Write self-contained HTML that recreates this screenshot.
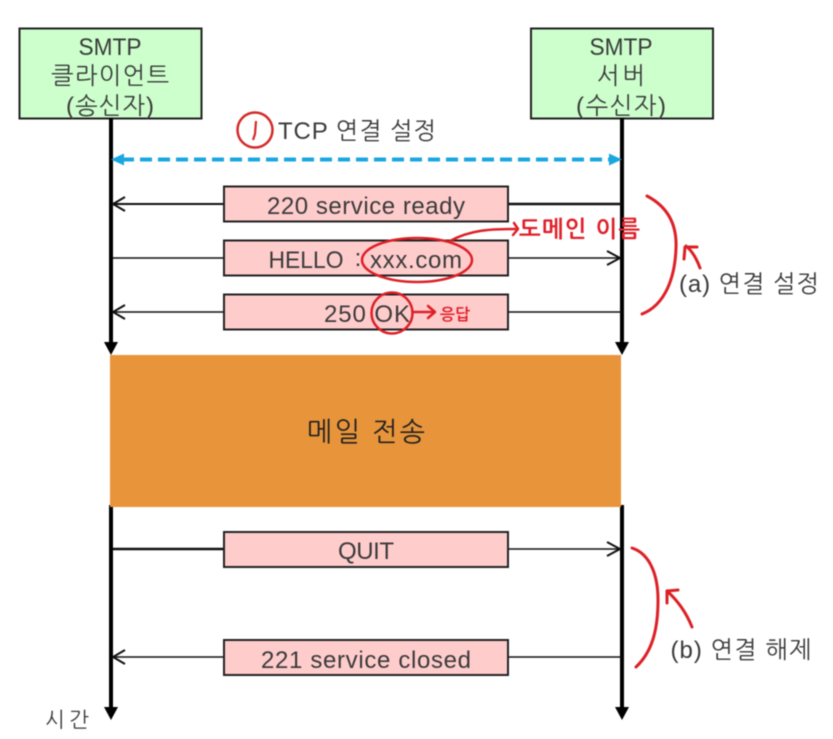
<!DOCTYPE html>
<html>
<head>
<meta charset="utf-8">
<style>
html,body{margin:0;padding:0;background:#fff;width:833px;height:739px;overflow:hidden}
svg{display:block;filter:blur(.5px)}
text{font-family:"Liberation Sans","NanumGothic","Noto Sans CJK KR",sans-serif;fill:#3a3a3a;font-size:24px;text-anchor:middle}
.r{font-family:"NanumGothic","Noto Sans CJK KR",sans-serif;fill:#e0202a;font-weight:bold;text-anchor:start}
</style>
</head>
<body>
<svg width="833" height="739" viewBox="0 0 833 739" xmlns="http://www.w3.org/2000/svg">
<rect width="833" height="739" fill="#fff"/>

<!-- actor boxes -->
<rect x="19.500" y="28.500" width="182" height="90" fill="#ccffcc" stroke="#222" stroke-width="2"/>
<rect x="531" y="28.500" width="182" height="90" fill="#ccffcc" stroke="#222" stroke-width="2"/>
<text x="110" y="55" textLength="63" lengthAdjust="spacingAndGlyphs">SMTP</text>
<text x="110" y="84" textLength="118" lengthAdjust="spacing">클라이언트</text>
<text x="110" y="114" textLength="88" lengthAdjust="spacing">(송신자)</text>
<text x="621" y="55" textLength="63" lengthAdjust="spacingAndGlyphs">SMTP</text>
<text x="621" y="84" textLength="48" lengthAdjust="spacing">서버</text>
<text x="621" y="114" textLength="90" lengthAdjust="spacing">(수신자)</text>

<!-- lifelines -->
<line x1="111" y1="118" x2="111" y2="344" stroke="#000" stroke-width="4"/>
<polygon points="104,342 118,342 111,355" fill="#000"/>
<line x1="622" y1="118" x2="622" y2="344" stroke="#000" stroke-width="4"/>
<polygon points="615,342 629,342 622,355" fill="#000"/>
<line x1="111" y1="505" x2="111" y2="710" stroke="#000" stroke-width="4"/>
<polygon points="104,707 118,707 111,720" fill="#000"/>
<line x1="622" y1="505" x2="622" y2="710" stroke="#000" stroke-width="4"/>
<polygon points="615,707 629,707 622,720" fill="#000"/>

<!-- TCP dashed -->
<line x1="122" y1="159.500" x2="612" y2="159.500" stroke="#1aa7e0" stroke-width="4" stroke-dasharray="12 6"/>
<polygon points="111,159.500 124,153.500 124,165.500" fill="#1aa7e0"/>
<polygon points="622,159.500 609,153.500 609,165.500" fill="#1aa7e0"/>
<text x="357" y="139" textLength="158" lengthAdjust="spacing">TCP 연결 설정</text>
<circle cx="255" cy="130" r="17.500" fill="none" stroke="#d42a2a" stroke-width="2.500"/>
<path d="M256 121 L255 134 L253 140" fill="none" stroke="#d42a2a" stroke-width="2.200"/>

<!-- connectors -->
<g stroke="#111" fill="none">
<line x1="113" y1="204" x2="224" y2="204" stroke-width="2"/>
<polyline points="125,197 113,204 125,211" stroke-width="2"/>
<line x1="508" y1="204" x2="622" y2="204" stroke-width="2.500"/>
<line x1="113" y1="258" x2="224" y2="258" stroke-width="1.500"/>
<line x1="508" y1="258" x2="620" y2="258" stroke-width="1.500"/>
<polyline points="607,251 620,258 607,265" stroke-width="2"/>
<line x1="113" y1="312" x2="224" y2="312" stroke-width="1.500"/>
<polyline points="125,305 113,312 125,319" stroke-width="2"/>
<line x1="508" y1="312" x2="622" y2="312" stroke-width="1.500"/>
<line x1="113" y1="549" x2="224" y2="549" stroke-width="2.500"/>
<line x1="508" y1="549" x2="620" y2="549" stroke-width="1.500"/>
<polyline points="607,542 620,549 607,556" stroke-width="2"/>
<line x1="113" y1="657" x2="224" y2="657" stroke-width="1.500"/>
<polyline points="125,650 113,657 125,664" stroke-width="2"/>
<line x1="508" y1="657" x2="622" y2="657" stroke-width="1.500"/>
</g>

<!-- message boxes -->
<g fill="#ffcccc" stroke="#222" stroke-width="2">
<rect x="224" y="186.500" width="284" height="35"/>
<rect x="224" y="240.500" width="284" height="35"/>
<rect x="224" y="294.500" width="284" height="35"/>
<rect x="224" y="532" width="284" height="35"/>
<rect x="224" y="640" width="284" height="35"/>
</g>
<text x="366" y="214" textLength="198" lengthAdjust="spacing">220 service ready</text>
<text x="306" y="268" textLength="75" lengthAdjust="spacingAndGlyphs">HELLO</text>
<text x="358" y="266">:</text>
<text x="416" y="268" textLength="92" lengthAdjust="spacing">xxx.com</text>
<text x="367" y="322" textLength="86" lengthAdjust="spacing">250 OK</text>
<text x="366" y="559" textLength="56" lengthAdjust="spacing">QUIT</text>
<text x="366" y="668" textLength="210" lengthAdjust="spacing">221 service closed</text>

<!-- orange block -->
<rect x="110" y="355" width="511" height="152" fill="#e8943a"/>
<text x="366" y="441" style="font-size:27px;fill:#222" textLength="118" lengthAdjust="spacing">메일 전송</text>

<!-- side labels -->
<text x="749" y="292" textLength="140" lengthAdjust="spacing">(a) 연결 설정</text>
<text x="741" y="658" textLength="141" lengthAdjust="spacing">(b) 연결 해제</text>
<text x="67" y="727" style="font-size:21px" textLength="44" lengthAdjust="spacing">시간</text>

<!-- red handwriting -->
<g fill="none" stroke="#dd2026" stroke-linecap="round" stroke-linejoin="round">
<ellipse cx="417" cy="260" rx="55" ry="22" stroke-width="2.500"/>
<circle cx="392" cy="313" r="20.500" stroke-width="2.500"/>
<path d="M450 241 C470 230 490 229 515 229" stroke-width="2.500"/>
<path d="M514 223 L518 229 L513 235" stroke-width="2.500"/>
<path d="M413 312 L433 312" stroke-width="2.500"/>
<path d="M428 306 L435 312 L428 318" stroke-width="2.500"/>
<path d="M647 196 C668 207 677 225 676 248 C675 278 665 305 642 314" stroke-width="3"/>
<path d="M700 268 C696 257 691 250 686 246" stroke-width="3"/>
<path d="M684 259 L685 247 L697 247" stroke-width="3"/>
<path d="M632 548 C650 554 658 575 658 600 C658 630 652 652 636 667" stroke-width="3"/>
<path d="M692 627 C686 612 677 600 667 591" stroke-width="3"/>
<path d="M667 603 L667 591 L678 590" stroke-width="3"/>
</g>
<text class="r" x="519" y="237" style="font-size:23px" textLength="121" lengthAdjust="spacing">도메인 이름</text>
<text class="r" x="440" y="320" style="font-size:16px">응답</text>
</svg>
</body>
</html>
